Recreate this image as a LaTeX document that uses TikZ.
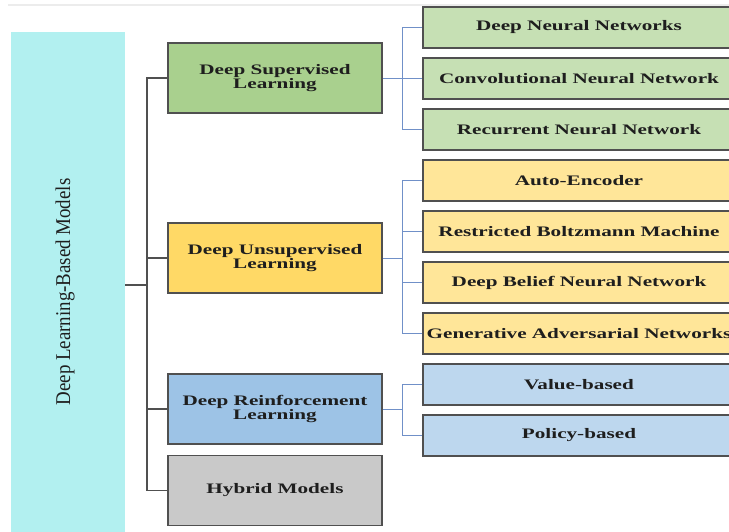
\documentclass[tikz,border=0pt]{standalone}
\usepackage{fontspec}
\setmainfont{Liberation Serif}
\newfontfamily\boxfont[FakeStretch=1.46]{Liberation Serif}
\newfontfamily\sidefont[FakeStretch=0.9]{Liberation Serif}
\usetikzlibrary{positioning}

\definecolor{sidecyan}{HTML}{B2F0F0}
\definecolor{supgreen}{HTML}{A9D08E}
\definecolor{supleaf}{HTML}{C6E0B4}
\definecolor{unsyellow}{HTML}{FFD966}
\definecolor{unsleaf}{HTML}{FFE699}
\definecolor{rlblue}{HTML}{9DC3E6}
\definecolor{rlleaf}{HTML}{BDD7EE}
\definecolor{hybgray}{HTML}{C9C9C9}
\definecolor{boxline}{HTML}{505050}
\definecolor{twigline}{HTML}{7090C8}
\definecolor{inktext}{HTML}{1E1E1E}

\begin{document}
\begin{tikzpicture}[x=1pt, y=-1pt, node distance=51pt,
    cat/.style={draw=boxline, line width=1.3pt, minimum width=214pt, minimum height=70pt,
        inner sep=0pt, align=center, text=inktext,
        font=\boxfont\bfseries\fontsize{14.5}{14.5}\selectfont},
    leaf/.style={draw=boxline, line width=1.3pt, minimum width=312pt, minimum height=41pt,
        inner sep=0pt, text=inktext, font=\boxfont\bfseries\fontsize{14.5}{16}\selectfont},
    trunk/.style={draw=boxline, line width=1.2pt},
    twig/.style={draw=twigline, line width=0.8pt}]
    \useasboundingbox (0,0) rectangle (729,532);
    \draw[gray!15, line width=1.5pt] (8,5) -- (729,5);

    % root
    \node[fill=sidecyan, minimum width=114pt, minimum height=500pt] (side) at (68,282) {};
    \node[rotate=90, text=inktext, font=\sidefont\fontsize{21}{21}\selectfont]
        (sidetitle) at (65,292) {Deep Learning-Based Models};

    % categories
    \node[cat, fill=supgreen] (sup) at (275,78) {Deep Supervised\\Learning};
    \node[cat, fill=unsyellow] (uns) at (275,258) {Deep Unsupervised\\Learning};
    \node[cat, fill=rlblue] (rl) at (275,409) {Deep Reinforcement\\Learning};
    \node[cat, fill=hybgray] (hyb) at (275,490.5) {Hybrid Models};

    % leaves
    \node[leaf, fill=supleaf] (dnn) at (579,27.5) {Deep Neural Networks};
    \node[leaf, fill=supleaf] (cnn) [below of=dnn] {Convolutional Neural Network};
    \node[leaf, fill=supleaf] (rnn) [below of=cnn] {Recurrent Neural Network};
    \node[leaf, fill=unsleaf] (ae) [below of=rnn] {Auto-Encoder};
    \node[leaf, fill=unsleaf] (rbm) [below of=ae] {Restricted Boltzmann Machine};
    \node[leaf, fill=unsleaf] (dbn) [below of=rbm] {Deep Belief Neural Network};
    \node[leaf, fill=unsleaf] (gan) [below of=dbn] {Generative Adversarial Networks};
    \node[leaf, fill=rlleaf] (val) [below of=gan] {Value-based};
    \node[leaf, fill=rlleaf] (pol) [below of=val] {Policy-based};

    % main trunk
    \coordinate (hub) at (147,285);
    \draw[trunk] (side.east |- hub) -- (hub);
    \foreach \c in {sup,uns,rl,hyb}
        \draw[trunk] (hub) |- (\c.west);

    % sub branches
    \coordinate[xshift=-20pt] (supj) at (dnn.west |- sup.east);
    \coordinate[xshift=-20pt] (unsj) at (dnn.west |- uns.east);
    \coordinate[xshift=-20pt] (rlj) at (dnn.west |- rl.east);
    \draw[twig] (sup.east) -- (supj);
    \draw[twig] (uns.east) -- (unsj);
    \draw[twig] (rl.east) -- (rlj);
    \foreach \l in {dnn,cnn,rnn}
        \draw[twig] (supj) |- (\l.west);
    \foreach \l in {ae,rbm,dbn,gan}
        \draw[twig] (unsj) |- (\l.west);
    \foreach \l in {val,pol}
        \draw[twig] (rlj) |- (\l.west);
\end{tikzpicture}
\end{document}
